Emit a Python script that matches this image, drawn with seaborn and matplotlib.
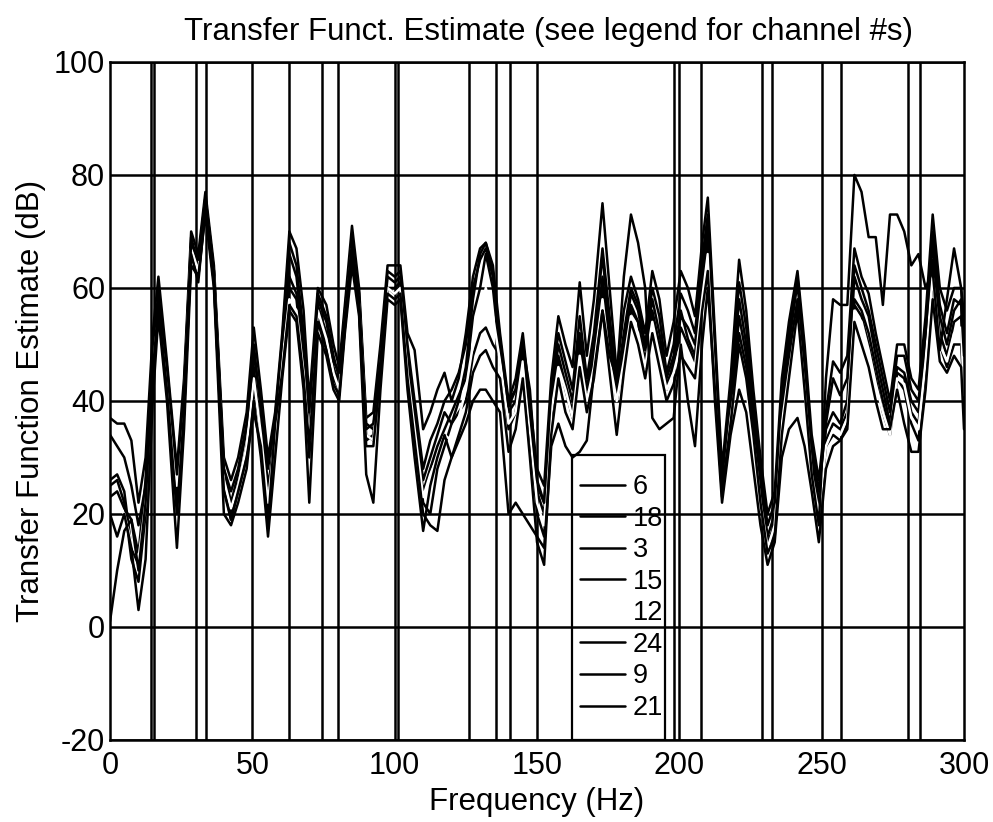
"""
Transfer function estimate per channel, redrawn from a printed MATLAB figure
"""

import matplotlib
matplotlib.use("Agg")
import matplotlib.pyplot as plt
from matplotlib.patches import Rectangle
import pandas as pd
import seaborn as sns

# ── data ─────────────────────────────────────────────────────────────────────
freq = [0, 2.5, 5, 7.5, 10, 12.5, 15, 17, 20, 23.5,
        26, 28.5, 31, 33.5, 36.5, 40, 42.5, 45, 48, 50.5,
        53, 55.5, 58, 60.5, 63, 65.5, 68, 70, 73, 76,
        78.5, 80.5, 82.5, 85, 87.5, 90, 92.5, 95, 97.5, 100,
        102, 104.5, 107, 110, 112.5, 115, 117.5, 120, 122.5, 125,
        127.5, 130, 132, 134.5, 137, 140, 142.5, 145, 147.5, 150,
        152.5, 155, 157.5, 160, 162.5, 165, 167.5, 170, 173, 175.5,
        178, 180.5, 183, 185.5, 188, 190.5, 193, 195.5, 198, 200.5,
        203, 205.5, 208, 210, 212.5, 215, 218, 221, 223.5, 226,
        228.5, 231, 233.5, 236, 238.5, 241.5, 244, 246.5, 249, 251.5,
        254, 256.5, 259, 261.5, 264, 266.5, 269, 271.5, 274, 276.5,
        279, 281.5, 284, 286.5, 289, 291.5, 294, 296.5, 299, 300]

ch6 = [26, 27, 24, 14, 11, 24, 50, 60, 45, 26,
       42, 69, 64, 76, 63, 28, 22, 27, 35, 50,
       38, 25, 33, 50, 66, 62, 50, 36, 59, 55,
       48, 44, 56, 69, 59, 36, 35, 48, 62, 61,
       62, 48, 38, 26, 30, 34, 38, 36, 40, 46,
       58, 66, 68, 63, 50, 38, 40, 50, 36, 24,
       20, 40, 50, 45, 40, 52, 42, 50, 66, 52,
       42, 50, 59, 56, 49, 58, 52, 44, 48, 56,
       51, 48, 63, 72, 48, 25, 40, 58, 50, 38,
       26, 16, 20, 40, 50, 61, 46, 30, 22, 35,
       38, 36, 40, 62, 58, 55, 48, 42, 36, 46,
       45, 40, 38, 50, 68, 55, 50, 56, 58, 45]

ch18 = [37, 36, 36, 33, 22, 30, 52, 62, 47, 28,
        44, 70, 66, 77, 64, 30, 26, 30, 38, 53,
        42, 30, 38, 52, 70, 67, 56, 40, 60, 57,
        50, 46, 57, 71, 60, 37, 38, 50, 64, 64,
        64, 52, 49, 35, 38, 42, 45, 40, 44, 52,
        62, 67, 68, 64, 52, 40, 44, 52, 40, 28,
        25, 44, 55, 50, 46, 61, 48, 58, 75, 60,
        45, 56, 62, 58, 52, 63, 58, 48, 54, 63,
        60, 55, 68, 76, 52, 28, 44, 65, 56, 42,
        30, 20, 24, 44, 54, 63, 50, 34, 26, 38,
        47, 45, 48, 67, 62, 59, 52, 46, 40, 50,
        50, 44, 42, 55, 73, 60, 56, 60, 60, 50]

ch3 = [25, 26, 22, 12, 8, 20, 46, 57, 42, 22,
       38, 66, 62, 74, 61, 25, 19, 24, 30, 46,
       34, 22, 36, 48, 62, 59, 47, 34, 57, 52,
       46, 43, 54, 67, 57, 33, 34, 46, 60, 60,
       61, 46, 36, 24, 28, 32, 35, 38, 41, 44,
       55, 60, 66, 60, 48, 35, 38, 48, 34, 20,
       16, 37, 48, 43, 38, 50, 40, 47, 62, 50,
       40, 48, 57, 54, 47, 56, 50, 43, 46, 53,
       50, 47, 60, 70, 46, 24, 38, 55, 48, 36,
       24, 14, 17, 37, 48, 58, 44, 28, 19, 33,
       36, 35, 38, 58, 56, 52, 46, 40, 35, 45,
       44, 38, 36, 48, 65, 52, 48, 54, 55, 42]

ch15 = [23, 24, 21, 19, 13, 26, 48, 56, 44, 24,
        40, 67, 63, 75, 62, 26, 20, 25, 32, 42,
        35, 20, 35, 46, 60, 58, 46, 30, 55, 50,
        44, 42, 53, 66, 56, 34, 33, 45, 60, 59,
        60, 45, 34, 22, 20, 28, 32, 36, 38, 40,
        48, 52, 53, 50, 48, 40, 42, 50, 42, 25,
        22, 40, 47, 42, 37, 49, 42, 48, 60, 48,
        41, 48, 56, 54, 46, 55, 49, 42, 47, 55,
        53, 50, 62, 68, 44, 23, 36, 52, 46, 35,
        24, 15, 18, 38, 46, 57, 44, 28, 20, 32,
        34, 33, 36, 57, 55, 50, 44, 38, 34, 44,
        42, 36, 33, 46, 62, 50, 46, 50, 50, 40]

ch12 = [22, 22, 20, 15, 12, 22, 47, 58, 43, 25,
        40, 67, 63, 75, 62, 26, 21, 25, 32, 44,
        34, 22, 34, 47, 58, 56, 45, 33, 56, 51,
        45, 42, 54, 67, 57, 34, 33, 46, 60, 59,
        60, 45, 35, 23, 27, 30, 34, 33, 37, 42,
        50, 55, 60, 55, 47, 36, 38, 47, 35, 22,
        18, 38, 46, 42, 37, 48, 40, 46, 58, 47,
        40, 47, 55, 52, 46, 54, 48, 42, 45, 50,
        48, 46, 58, 66, 44, 24, 37, 47, 42, 33,
        22, 14, 18, 36, 45, 55, 42, 27, 20, 32,
        35, 34, 37, 56, 54, 49, 43, 38, 34, 44,
        43, 37, 35, 47, 62, 50, 47, 52, 53, 41]

ch24 = [34, 32, 30, 25, 18, 25, 50, 59, 46, 27,
        42, 68, 65, 76, 63, 28, 24, 28, 36, 48,
        40, 28, 37, 51, 68, 64, 52, 38, 58, 54,
        47, 45, 55, 68, 58, 35, 36, 47, 63, 62,
        63, 50, 40, 28, 33, 36, 40, 42, 45, 50,
        60, 65, 67, 62, 51, 39, 42, 51, 38, 26,
        22, 42, 52, 47, 42, 55, 44, 52, 67, 55,
        43, 52, 60, 57, 50, 60, 55, 45, 50, 59,
        56, 52, 65, 73, 50, 26, 42, 61, 53, 40,
        28, 18, 22, 42, 52, 62, 48, 32, 24, 36,
        44, 41, 44, 64, 60, 56, 50, 44, 38, 48,
        48, 42, 40, 52, 70, 57, 52, 58, 57, 48]

ch9 = [20, 16, 20, 14, 3, 12, 40, 55, 40, 14,
       35, 64, 62, 73, 60, 20, 18, 22, 28, 40,
       30, 16, 30, 44, 56, 54, 42, 22, 52, 48,
       42, 40, 52, 64, 55, 27, 22, 42, 58, 57,
       58, 42, 30, 17, 25, 30, 34, 30, 34, 38,
       45, 48, 49, 46, 44, 31, 35, 44, 30, 15,
       11, 34, 44, 38, 35, 46, 38, 44, 56, 45,
       34, 45, 54, 50, 44, 52, 46, 40, 43, 48,
       46, 44, 56, 63, 40, 22, 34, 42, 38, 28,
       18, 11, 15, 30, 35, 37, 32, 24, 15, 28,
       32, 33, 35, 54, 50, 46, 40, 35, 35, 42,
       36, 31, 31, 42, 58, 47, 45, 48, 46, 35]

ch21 = [1, 10, 17, 19, 10, 22, 45, 57, 42, 20,
        38, 66, 61, 74, 61, 24, 19, 24, 30, 38,
        32, 18, 36, 45, 57, 55, 44, 32, 54, 49,
        43, 41, 53, 66, 56, 32, 32, 45, 59, 58,
        59, 44, 33, 20, 18, 17, 26, 30, 33, 36,
        40, 42, 42, 40, 38, 20, 22, 20, 18, 16,
        14, 32, 36, 32, 30, 31, 33, 45, 56, 48,
        44, 62, 73, 68, 60, 37, 35, 36, 37, 50,
        40, 32, 50, 60, 42, 24, 36, 50, 44, 34,
        22, 13, 16, 34, 44, 56, 42, 27, 18, 44,
        58, 57, 57, 80, 77, 69, 69, 57, 73, 73,
        70, 64, 66, 60, 63, 49, 58, 67, 60, 55]

channels = ["6", "18", "3", "15", "12", "24", "9", "21"]
series = [ch6, ch18, ch3, ch15, ch12, ch24, ch9, ch21]

# extra vertical marker lines (Hz)
marker_freqs = [14.3, 15.6, 30.2, 33.7, 62.9, 74.3, 80.0, 101.0, 126.1,
                135.7, 140.5, 198.2, 207.6, 229.1, 232.4, 256.8, 280.4, 284.5]

# ── long-form table for seaborn ──────────────────────────────────────────────
df = pd.concat(
    [pd.DataFrame({"freq": freq, "dB": vals, "channel": ch})
     for ch, vals in zip(channels, series)],
    ignore_index=True,
)

sns.set_style("white")
plt.rcParams["font.family"] = ["Liberation Sans", "DejaVu Sans"]
plt.rcParams["axes.unicode_minus"] = False
plt.rcParams["text.color"] = "black"
plt.rcParams["axes.labelcolor"] = "black"

# channel 12 printed as white in the original greyscale copy
palette = {ch: "black" for ch in channels}
palette["12"] = "white"

fig = plt.figure(figsize=(9.93, 8.22), dpi=100)
ax = fig.add_axes([0.1108, 0.0998, 0.8600, 0.8248])

# grid + marker lines under the data
for y in range(-20, 101, 20):
    ax.axhline(y, color="black", lw=1.8, zorder=1)
for x in range(50, 300, 50):
    ax.axvline(x, color="black", lw=1.8, zorder=1)
for x in marker_freqs:
    ax.axvline(x, color="black", lw=1.8, zorder=1)

sns.lineplot(data=df, x="freq", y="dB", hue="channel", hue_order=channels,
             palette=palette, sort=False, estimator=None, lw=1.8, ax=ax,
             zorder=2)

ax.set_xlim(0, 300)
ax.set_ylim(-20, 100)
ax.set_xticks(range(0, 301, 50))
ax.set_yticks(range(-20, 101, 20))
ax.tick_params(labelsize=22, direction="in", length=5, colors="black")
ax.tick_params(axis="x", pad=8)
for sp in ax.spines.values():
    sp.set_color("black")
    sp.set_linewidth(1.8)

ax.set_title("Transfer Funct. Estimate (see legend for channel #s)",
             fontsize=22.5, pad=16, x=0.514)
ax.set_xlabel("Frequency (Hz)", fontsize=22.5, labelpad=4)
ax.set_ylabel("Transfer Function Estimate (dB)", fontsize=22.5, labelpad=6)

# legend box (square, see-through) sitting on the bottom axis
ax.add_patch(Rectangle((0.541, 0.0), 0.109, 0.42, transform=ax.transAxes,
                       fill=False, edgecolor="black", lw=1.6, zorder=3))
leg = ax.legend(loc="upper left", bbox_to_anchor=(0.541, 0.404),
                borderaxespad=0, fontsize=19.5, frameon=False,
                handlelength=1.65, handletextpad=0.3, labelspacing=0.205,
                borderpad=0.3)
for line in leg.get_lines():
    line.set_linewidth(1.8)

plt.savefig("out.png", dpi=100)
plt.close()
